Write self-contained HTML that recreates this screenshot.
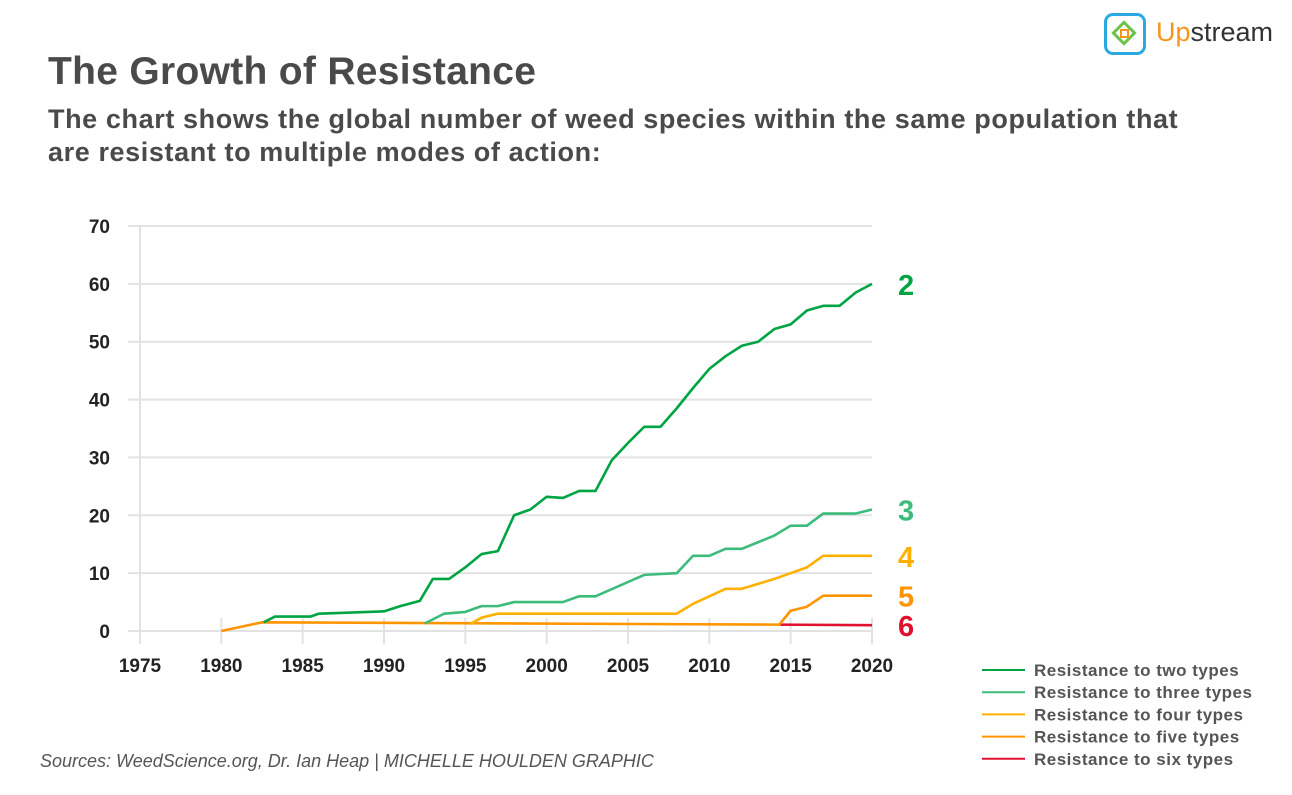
<!DOCTYPE html>
<html><head><meta charset="utf-8"><style>
body{margin:0;width:1292px;height:795px;background:#fff;font-family:"Liberation Sans",sans-serif;overflow:hidden;position:relative}
.t{position:absolute;color:#4a4a4a;font-weight:bold}
</style></head><body>
<div class="t" style="left:48px;top:50px;font-size:39px;letter-spacing:0.3px">The Growth of Resistance</div>
<div class="t" style="left:48px;top:103px;font-size:27px;line-height:33px;width:1180px;letter-spacing:0.6px">The chart shows the global number of weed species within the same population that are resistant to multiple modes of action:</div>
<div style="position:absolute;left:1104px;top:13px;width:42px;height:42px;border:3px solid #2aa8e0;border-radius:9px;box-sizing:border-box">
<div style="position:absolute;left:8px;top:8px;width:18px;height:18px;border:3px solid #6cc24a;transform:rotate(45deg);box-sizing:border-box"></div>
<div style="position:absolute;left:13px;top:13px;width:9px;height:9px;border:2px solid #f7941d;box-sizing:border-box"></div></div>
<div style="position:absolute;left:1156px;top:17px;font-size:27px;color:#333"><span style="color:#f7941d">Up</span>stream</div>
<div style="position:absolute;left:40px;top:751px;font-size:18px;font-style:italic;color:#555">Sources: WeedScience.org, Dr. Ian Heap | MICHELLE HOULDEN GRAPHIC</div>
<svg id="c" width="1292" height="795" style="position:absolute;left:0;top:0"></svg>
<script>
const yTicks=[0,10,20,30,40,50,60,70];
const xTicks=[1975,1980,1985,1990,1995,2000,2005,2010,2015,2020];
const twoX=[1982.6,1983.3,1985.5,1986,1990,1991,1992.2,1993,1994,1995,1996,1997,1998,1999,2000,2001,2002,2003,2004,2005,2006,2007,2008,2009,2010,2011,2012,2013,2014,2015,2016,2017,2018,2019,2020];
const twoY=[1.5,2.5,2.5,3,3.4,4.3,5.2,9,9,11,13.3,13.8,20,21,23.2,23,24.2,24.2,29.5,32.5,35.3,35.3,38.5,42,45.3,47.5,49.3,50,52.2,53,55.4,56.2,56.2,58.5,60];
const threeX=[1992.5,1993.7,1995,1996,1997,1998,2001,2002,2003,2006,2008,2009,2010,2011,2012,2014,2015,2016,2017,2019,2020];
const threeY=[1.3,3,3.3,4.3,4.3,5,5,6,6,9.7,10,13,13,14.2,14.2,16.5,18.2,18.2,20.3,20.3,21];
const fourX=[1995.3,1996,1997,2008,2009,2011,2012,2014,2016,2017,2020];
const fourY=[1.2,2.3,3,3,4.7,7.3,7.3,9,11,13,13];
const fiveX=[1980,1982.5,2014.3,2015,2016,2017,2020];
const fiveY=[0,1.5,1.1,3.5,4.2,6.1,6.1];
const sixX=[2014.3,2020];
const sixY=[1.1,1.0];
const series=[["two",twoX,twoY,"#00a443","2"],["three",threeX,threeY,"#3dbb7a","3"],["four",fourX,fourY,"#ffb000","4"],["five",fiveX,fiveY,"#ff9500","5"],["six",sixX,sixY,"#e0102f","6"]];
const legendLabels=["Resistance to two types","Resistance to three types","Resistance to four types","Resistance to five types","Resistance to six types"];
const xs=v=>140+(v-1975)*(732/45), ys=v=>631-v*(405/70);
const svg=document.getElementById('c'),NS='http://www.w3.org/2000/svg';
function mk(t,a,p){const e=document.createElementNS(NS,t);for(const k in a)e.setAttribute(k,a[k]);(p||svg).appendChild(e);return e;}
yTicks.forEach(v=>{const l=mk('line',{x1:128,x2:872,y1:ys(v),y2:ys(v),stroke:'#e2e2e2','stroke-width':2});


const t=mk('text',{x:110,y:ys(v)+7,'text-anchor':'end','font-size':19,'font-weight':'bold',fill:'#222'});t.textContent=v;

});
xTicks.forEach(v=>{const l=mk('line',{x1:xs(v),x2:xs(v),y1:(v==1975?226:618),y2:644,stroke:'#e2e2e2','stroke-width':2});


const t=mk('text',{x:xs(v),y:672,'text-anchor':'middle','font-size':19,'font-weight':'bold',fill:'#222'});t.textContent=v;

});
series.slice().reverse().forEach(s=>{const p=mk('polyline',{points:s[1].map((x,i)=>xs(x)+','+ys(s[2][i])).join(' '),fill:'none',stroke:s[3],'stroke-width':2.6,'stroke-linejoin':'round'});


const last=s[2][s[2].length-1];
const t=mk('text',{x:898,y:ys(last)+11,'font-size':29,'font-weight':'bold',fill:s[3]});t.textContent=s[4];

});
legendLabels.forEach((lab,i)=>{const y=670+i*22.2;
const l=mk('line',{x1:982,x2:1025,y1:y,y2:y,stroke:series[i][3],'stroke-width':2});


const t=mk('text',{x:1034,y:y+6,'font-size':17,'font-weight':'bold',fill:'#555','letter-spacing':'0.5'});t.textContent=lab;

});
</script>
</body></html>
